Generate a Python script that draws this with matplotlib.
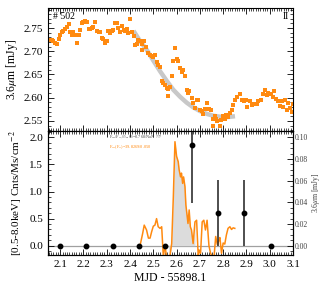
import numpy as np
import matplotlib
matplotlib.use("Agg")
import matplotlib.pyplot as plt
from matplotlib.ticker import MultipleLocator, FormatStrFormatter

plt.rcParams.update({
    "font.family": ["Liberation Serif", "DejaVu Serif"],
    "mathtext.fontset": "stix",
    "font.size": 8, "axes.linewidth": 0.8,
    "xtick.direction": "in", "ytick.direction": "in",
    "xtick.top": True, "ytick.right": True,
    "xtick.major.size": 4.5, "ytick.major.size": 4.5,
    "xtick.minor.size": 2, "ytick.minor.size": 2,
    "xtick.major.width": 0.6, "ytick.major.width": 0.6,
    "xtick.minor.width": 0.5, "ytick.minor.width": 0.5,
})

ORANGE = "#ff8a10"

# --- top panel: 3.6um photometry (MJD - 55898.1, mJy)
ir_t = [2.050, 2.057, 2.064, 2.071, 2.079, 2.086, 2.093, 2.100, 2.107, 2.114,
        2.121, 2.129, 2.136, 2.143, 2.150, 2.157, 2.164, 2.172, 2.179, 2.186,
        2.193, 2.200, 2.207, 2.214, 2.222, 2.229, 2.236, 2.243, 2.250, 2.257,
        2.265, 2.272, 2.279, 2.286, 2.293, 2.300, 2.307, 2.315, 2.322, 2.329,
        2.336, 2.343, 2.350, 2.358, 2.365, 2.372, 2.379, 2.386, 2.393, 2.400,
        2.408, 2.415, 2.422, 2.429, 2.436, 2.443, 2.450, 2.453, 2.462, 2.469,
        2.479, 2.486, 2.494, 2.500, 2.507, 2.515, 2.522, 2.529, 2.536, 2.543,
        2.551, 2.558, 2.562, 2.565, 2.572, 2.579, 2.586, 2.594, 2.601, 2.608,
        2.615, 2.622, 2.629, 2.637, 2.644, 2.651, 2.655, 2.665, 2.672, 2.679,
        2.686, 2.694, 2.701, 2.708, 2.715, 2.722, 2.732, 2.741, 2.747, 2.755,
        2.758, 2.765, 2.770, 2.775, 2.785, 2.792, 2.800, 2.807, 2.814, 2.822,
        2.830, 2.837, 2.844, 2.851, 2.861, 2.873, 2.881, 2.890, 2.897, 2.904,
        2.915, 2.923, 2.933, 2.944, 2.951, 2.963, 2.973, 2.980, 2.987, 2.994,
        3.004, 3.013, 3.018, 3.027, 3.037, 3.044, 3.051, 3.058, 3.066, 3.073,
        3.080, 3.087, 3.094, 3.099]
ir_f = [2.725, 2.725, 2.724, 2.722, 2.718, 2.716, 2.727, 2.736, 2.741, 2.744,
        2.748, 2.752, 2.759, 2.741, 2.734, 2.742, 2.735, 2.718, 2.734, 2.746,
        2.762, 2.764, 2.766, 2.764, 2.749, 2.749, 2.750, 2.752, 2.764, 2.743,
        2.741, 2.741, 2.728, 2.726, 2.718, 2.723, 2.743, 2.739, 2.743, 2.746,
        2.760, 2.761, 2.750, 2.742, 2.754, 2.746, 2.744, 2.749, 2.740, 2.770,
        2.741, 2.733, 2.714, 2.716, 2.725, 2.723, 2.716, 2.703, 2.723, 2.709,
        2.696, 2.693, 2.690, 2.688, 2.693, 2.676, 2.671, 2.667, 2.635, 2.632,
        2.628, 2.621, 2.604, 2.619, 2.623, 2.646, 2.680, 2.706, 2.683, 2.680,
        2.664, 2.655, 2.659, 2.647, 2.617, 2.610, 2.615, 2.600, 2.589, 2.578,
        2.596, 2.594, 2.574, 2.571, 2.564, 2.576, 2.589, 2.576, 2.573, 2.554,
        2.540, 2.560, 2.553, 2.549, 2.538, 2.552, 2.561, 2.555, 2.563, 2.558,
        2.567, 2.574, 2.585, 2.596, 2.601, 2.607, 2.596, 2.592, 2.596, 2.579,
        2.592, 2.585, 2.587, 2.587, 2.592, 2.596, 2.608, 2.617, 2.605, 2.610,
        2.607, 2.601, 2.614, 2.597, 2.592, 2.583, 2.592, 2.580, 2.596, 2.574,
        2.589, 2.578, 2.569, 2.587]

# model curve
fit_t = [2.415, 2.443, 2.472, 2.500, 2.529, 2.558, 2.586, 2.615, 2.644,
         2.672, 2.701, 2.730, 2.758, 2.787, 2.815, 2.851]
fit_f = [2.744, 2.722, 2.703, 2.680, 2.657, 2.636, 2.617, 2.602, 2.589,
         2.579, 2.571, 2.565, 2.561, 2.559, 2.558, 2.560]

# --- bottom panel: X-ray counts (binned) and IR excess (orange)
xr_t = [2.100, 2.213, 2.326, 2.439, 2.552, 2.665, 2.778, 2.891, 3.004]
xr_c = [0.0, 0.0, 0.0, 0.0, 0.0, 1.85, 0.60, 0.60, 0.0]
xr_lo = [0.0, 0.0, 0.0, 0.0, 0.0, 1.07, 0.60, 0.60, 0.0]
xr_hi = [0.0, 0.0, 0.0, 0.0, 0.0, 0.60, 0.62, 0.62, 0.0]

ex_t = [2.443, 2.454, 2.461, 2.471, 2.479, 2.486, 2.493, 2.500, 2.507, 2.514,
        2.521, 2.529, 2.536, 2.543, 2.550, 2.557, 2.564, 2.571, 2.579, 2.586,
        2.593, 2.600, 2.607, 2.611, 2.617, 2.621, 2.626, 2.630, 2.636, 2.640,
        2.644, 2.649, 2.654, 2.659, 2.664, 2.671, 2.679, 2.686, 2.693, 2.697,
        2.703, 2.710, 2.717, 2.724, 2.731, 2.739, 2.746, 2.754, 2.761, 2.768,
        2.775, 2.782, 2.786, 2.793, 2.800, 2.807, 2.814, 2.821, 2.829, 2.836,
        2.843, 2.850]
ex_f = [0.00, 0.22, 0.38, 0.29, 0.14, 0.14, 0.26, 0.36, 0.38, 0.50,
        0.35, 0.32, 0.35, -0.20, 0.00, -0.20, -0.20, -0.20, 0.04, 0.90,
        1.92, 1.65, 1.55, 1.40, 1.27, 1.34, 1.15, 1.27, 1.09, 0.75,
        0.60, 0.41, 0.66, 0.35, 0.29, 0.04, 0.44, 0.47, -0.20, -0.08,
        -0.14, 0.44, 0.47, 0.29, 0.47, 0.00, -0.14, -0.20, -0.20, 0.17,
        0.02, 0.10, 0.15, -0.14, 0.05, 0.03, 0.20, 0.32, 0.35, 0.30,
        0.33, 0.32]

fig = plt.figure(figsize=(3.27, 2.90), dpi=100)
ax1 = fig.add_axes([0.147, 0.548, 0.749, 0.424])
ax2 = fig.add_axes([0.147, 0.121, 0.749, 0.427], sharex=ax1)

ax1.plot(fit_t, fit_f, "-", color="#c8c8c8", lw=3.2, solid_capstyle="butt",
         zorder=1)
ax1.plot(ir_t, ir_f, "s", color=ORANGE, ms=2.4, mew=0, zorder=2)
ax1.set_xlim(2.048, 3.1)
ax1.set_ylim(2.528, 2.793)
ax1.yaxis.set_major_locator(MultipleLocator(0.05))
ax1.yaxis.set_minor_locator(MultipleLocator(0.01))
ax1.xaxis.set_major_locator(MultipleLocator(0.1))
ax1.xaxis.set_minor_locator(MultipleLocator(0.01))
ax1.tick_params(labelbottom=False)
ax1.set_ylabel("3.6$\\mu$m [mJy]", fontsize=8.5, labelpad=3)
ax1.text(0.02, 0.97, "# 502", transform=ax1.transAxes, ha="left", va="top",
         fontsize=7)
ax1.text(0.985, 0.97, "II", transform=ax1.transAxes, ha="right", va="top",
         fontsize=7)

ax2.axhline(0, color="#a0a0a0", lw=0.9, zorder=1)
ex = np.array(ex_f)
et = np.array(ex_t)
ax2.fill_between(et, 0, ex, where=(et >= 2.57) & (et <= 2.68),
                 interpolate=True, color="#dcdcdc", lw=0, zorder=1)
ax2.plot(ex_t, ex_f, "-", color=ORANGE, lw=1.1, zorder=2)
ax2.errorbar(xr_t, xr_c, yerr=[xr_lo, xr_hi], fmt="o", color="black",
             ecolor="#303030", elinewidth=1.2, capsize=0, ms=3.2, zorder=3)
ax2.set_ylim(-0.17, 2.116)
ax2.yaxis.set_major_locator(MultipleLocator(0.5))
ax2.yaxis.set_minor_locator(MultipleLocator(0.1))
ax2.xaxis.set_minor_locator(MultipleLocator(0.01))
ax2.set_xlabel("MJD - 55898.1", fontsize=8.5, labelpad=2)
ax2.set_ylabel("[0.5-8.0keV] Cnts/Ms/cm$^{-2}$", fontsize=8, labelpad=3)
ax2.tick_params(right=False)
ax2.text(0.25, 0.978, "F$_{IR}$/F$_{X,0.5-8.0}$=0.768/NaN ???",
         transform=ax2.transAxes, fontsize=3.2, color="#505050", va="top")
ax2.text(0.25, 0.905, "F$_{IR}$(F$_{X}$)=39.8269/0.050",
         transform=ax2.transAxes, fontsize=3.2, color=ORANGE, va="top")

ax3 = ax2.twinx()
lo, hi = ax2.get_ylim()
ax3.set_ylim(lo * 0.05, hi * 0.05)
ax3.yaxis.set_major_locator(MultipleLocator(0.02))
ax3.yaxis.set_minor_locator(MultipleLocator(0.005))
ax3.tick_params(axis="y", labelsize=5.5, labelcolor="#404040", pad=1)
ax3.set_ylabel("3.6$\\mu$m [mJy]", fontsize=5.5, color="#404040", labelpad=2)
ax3.yaxis.set_major_formatter(FormatStrFormatter("%.2f"))

fig.savefig("out.png", dpi=100)
